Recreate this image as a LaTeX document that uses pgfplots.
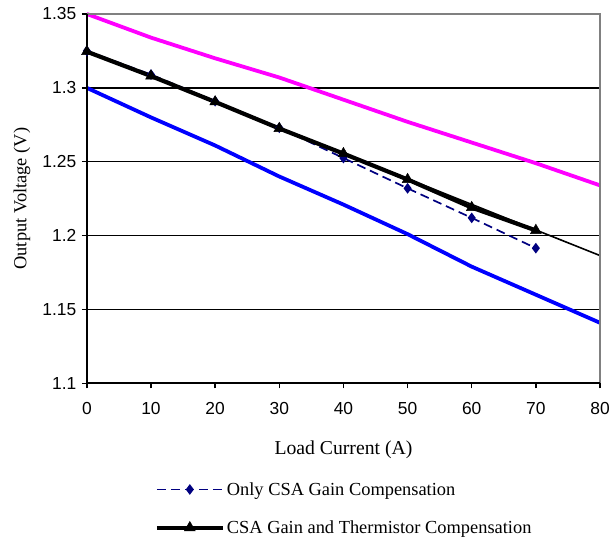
\documentclass[border=0pt]{standalone}
\usepackage{fontspec}
\setmainfont{Liberation Serif}
\newfontfamily\ticksf{Liberation Sans}
\usepackage{pgfplots}
\pgfplotsset{compat=1.18}
\definecolor{mag}{HTML}{FF00FF}
\definecolor{blu}{HTML}{0000FF}
\definecolor{nav}{HTML}{000080}
\definecolor{bordergray}{HTML}{808080}
\begin{document}
\begin{tikzpicture}
\path (-87bp,-152bp) rectangle (526bp,384bp);
\begin{axis}[
  at={(0,0)}, anchor=south west,
  scale only axis, width=514bp, height=370bp,
  xmin=0, xmax=80, ymin=1.1, ymax=1.35,
  xtick={0,10,20,30,40,50,60,70,80},
  xticklabels={0,10,20,30,40,50,60,70,80},
  ytick={1.1,1.15,1.2,1.25,1.3,1.35},
  yticklabels={1.1,1.15,1.2,1.25,1.3,1.35},
  xtick pos=bottom, ytick pos=left,
  tick align=outside, major tick length=5bp,
  tick style={black, line width=1.4bp},
  axis line style={draw=none},
  ymajorgrids, grid style={black, line width=1.4bp},
  /pgf/number format/assume math mode=true,
  tick label style={font=\ticksf\fontsize{17.5}{20}\selectfont},
  xticklabel style={yshift=-10bp},
  yticklabel style={xshift=-2bp},
  xlabel={Load Current (A)},
  ylabel={Output Voltage (V)},
  xlabel style={font=\fontsize{19.8}{22}\selectfont, at={(axis description cs:0.5,0)}, anchor=center, yshift=-67bp},
  ylabel style={font=\fontsize{18.5}{22}\selectfont, at={([xshift=-65bp]axis description cs:0,0.5)}, anchor=center},
  clip=false,
  legend style={at={(axis description cs:0.132,-0.262)}, anchor=north west,
    draw=none, fill=none, font=\fontsize{18.5}{22}\selectfont,
    row sep=20bp, inner sep=0pt, cells={anchor=west}},
  legend image code/.code={\draw[mark repeat=2,mark phase=2,#1] plot coordinates {(0bp,0bp) (33bp,0bp) (66bp,0bp)};},
]
\addplot[mag, line width=3.8bp, forget plot] coordinates {
(0,1.35)(10,1.334)(20,1.320)(30,1.307)(40,1.292)(50,1.277)(60,1.263)(70,1.249)(80,1.234)};
\addplot[blu, line width=3.8bp, forget plot] coordinates {
(0,1.300)(10,1.280)(20,1.261)(30,1.240)(40,1.221)(50,1.201)(60,1.179)(70,1.160)(80,1.141)};
\addplot[black, line width=1.6bp, forget plot] coordinates {(0,1.325)(80,1.1865)};
\addplot[nav, line width=1.7bp, dash pattern=on 9bp off 5bp, mark=diamond*, mark size=4bp,
  mark options={solid, fill=nav}] coordinates {
(0,1.325)(10,1.309)(20,1.291)(30,1.273)(40,1.2525)(50,1.232)(60,1.212)(70,1.1915)};
\addlegendentry{Only CSA Gain Compensation}
\addplot[black, line width=4.2bp, mark=triangle*, mark size=6.2bp,
  mark options={solid, fill=black, line width=0.5bp}] coordinates {
(0,1.3245)(10,1.308)(20,1.2905)(30,1.2725)(40,1.2555)(50,1.238)(60,1.219)(70,1.2035)};
\addlegendentry{CSA Gain and Thermistor Compensation}
\draw[bordergray, line width=2bp] (rel axis cs:0,1) -- (rel axis cs:1,1) -- (rel axis cs:1,0);
\draw[black, line width=2.2bp] (rel axis cs:0,1) -- (rel axis cs:0,0) -- (rel axis cs:1,0);
\end{axis}
\end{tikzpicture}
\end{document}
